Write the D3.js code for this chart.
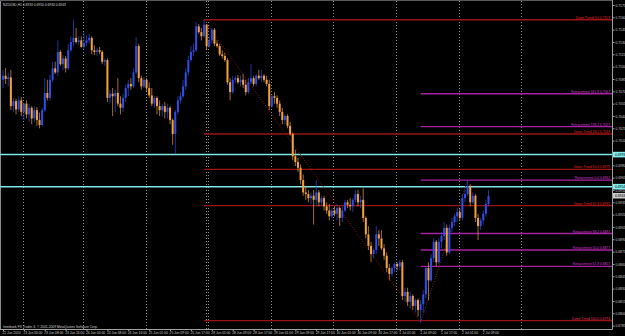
<!DOCTYPE html>
<html>
<head>
<meta charset="utf-8">
<script src="https://cdn.jsdelivr.net/npm/d3@7"></script>
<style>
  html, body { margin: 0; padding: 0; background: #000; overflow: hidden; }
  text { font-family: "Liberation Sans", Arial, sans-serif; }
</style>
</head>
<body>
<script>
const w = 625;
const h = 336;
const axisX = 612.5;
const axisY = 329.5;

// NZDUSD H1 bars, 22 Jun - 2 Jul 2010
const open = [
  0.7084, 0.7089, 0.7085, 0.7087, 0.7052, 0.7058, 0.7048, 0.7059, 0.7045, 0.7055,
  0.7042, 0.7050, 0.7037, 0.7047, 0.7035, 0.7029, 0.7047, 0.7068, 0.7062, 0.7084,
  0.7098, 0.7093, 0.7118, 0.7103, 0.7110, 0.7098, 0.7120, 0.7130, 0.7135, 0.7130,
  0.7132, 0.7124, 0.7129, 0.7132, 0.7135, 0.7120, 0.7118, 0.7120, 0.7118, 0.7106,
  0.7108, 0.7062, 0.7067, 0.7064, 0.7068, 0.7055, 0.7050, 0.7062, 0.7074, 0.7079,
  0.7076, 0.7093, 0.7125, 0.7086, 0.7076, 0.7084, 0.7074, 0.7065, 0.7055, 0.7062,
  0.7052, 0.7047, 0.7052, 0.7045, 0.7050, 0.7035, 0.7018, 0.7045, 0.7059, 0.7064,
  0.7076, 0.7093, 0.7108, 0.7118, 0.7120, 0.7149, 0.7142, 0.7137, 0.7151, 0.7125,
  0.7132, 0.7145, 0.7128, 0.7125, 0.7115, 0.7113, 0.7108, 0.7081, 0.7069, 0.7084,
  0.7086, 0.7081, 0.7084, 0.7078, 0.7069, 0.7081, 0.7086, 0.7079, 0.7089, 0.7086,
  0.7089, 0.7084, 0.7079, 0.7052, 0.7064, 0.7062, 0.7055, 0.7045, 0.7035, 0.7040,
  0.7028, 0.7018, 0.6991, 0.6984, 0.6977, 0.6962, 0.6947, 0.6945, 0.6940, 0.6943,
  0.6938, 0.6947, 0.6935, 0.6940, 0.6930, 0.6925, 0.6918, 0.6925, 0.6921, 0.6928,
  0.6916, 0.6925, 0.6935, 0.6932, 0.6930, 0.6938, 0.6945, 0.6935, 0.6938, 0.6916,
  0.6896, 0.6882, 0.6872, 0.6877, 0.6896, 0.6891, 0.6879, 0.6870, 0.6855, 0.6848,
  0.6855, 0.6860, 0.6857, 0.6862, 0.6821, 0.6826, 0.6814, 0.6821, 0.6809, 0.6816,
  0.6804, 0.6811, 0.6823, 0.6855, 0.6840, 0.6867, 0.6887, 0.6862, 0.6887, 0.6894,
  0.6904, 0.6874, 0.6904, 0.6911, 0.6918, 0.6923, 0.6916, 0.6940, 0.6945, 0.6955,
  0.6935, 0.6943, 0.6916, 0.6906, 0.6913, 0.6921, 0.6933
];
const high = [
  0.7096, 0.7098, 0.7093, 0.7096, 0.7062, 0.7061, 0.7064, 0.7063, 0.7056, 0.7059,
  0.7055, 0.7052, 0.7052, 0.7051, 0.7044, 0.7050, 0.7086, 0.7084, 0.7090, 0.7106,
  0.7106, 0.7132, 0.7120, 0.7114, 0.7113, 0.7128, 0.7137, 0.7157, 0.7147, 0.7137,
  0.7137, 0.7142, 0.7138, 0.7140, 0.7137, 0.7126, 0.7123, 0.7124, 0.7120, 0.7110,
  0.7110, 0.7072, 0.7074, 0.7072, 0.7086, 0.7064, 0.7067, 0.7078, 0.7084, 0.7086,
  0.7098, 0.7136, 0.7128, 0.7089, 0.7087, 0.7086, 0.7081, 0.7074, 0.7064, 0.7064,
  0.7059, 0.7055, 0.7057, 0.7055, 0.7052, 0.7037, 0.7047, 0.7064, 0.7069, 0.7084,
  0.7098, 0.7113, 0.7125, 0.7128, 0.7154, 0.7152, 0.7147, 0.7157, 0.7152, 0.7137,
  0.7147, 0.7147, 0.7132, 0.7128, 0.7120, 0.7117, 0.7110, 0.7086, 0.7089, 0.7089,
  0.7090, 0.7089, 0.7091, 0.7084, 0.7086, 0.7103, 0.7089, 0.7091, 0.7096, 0.7096,
  0.7091, 0.7089, 0.7084, 0.7067, 0.7069, 0.7065, 0.7059, 0.7050, 0.7042, 0.7042,
  0.7033, 0.7020, 0.6999, 0.6989, 0.6981, 0.6969, 0.6955, 0.6950, 0.6947, 0.6950,
  0.6962, 0.6950, 0.6943, 0.6943, 0.6935, 0.6933, 0.6928, 0.6930, 0.6933, 0.6930,
  0.6930, 0.6938, 0.6938, 0.6940, 0.6940, 0.6950, 0.6950, 0.6943, 0.6952, 0.6918,
  0.6906, 0.6887, 0.6879, 0.6906, 0.6901, 0.6901, 0.6884, 0.6874, 0.6860, 0.6857,
  0.6862, 0.6862, 0.6865, 0.6865, 0.6831, 0.6831, 0.6826, 0.6823, 0.6818, 0.6818,
  0.6816, 0.6828, 0.6857, 0.6862, 0.6872, 0.6891, 0.6889, 0.6891, 0.6899, 0.6911,
  0.6908, 0.6908, 0.6916, 0.6921, 0.6928, 0.6928, 0.6945, 0.6950, 0.6962, 0.6957,
  0.6947, 0.6945, 0.6921, 0.6916, 0.6925, 0.6938, 0.6950
];
const low = [
  0.7074, 0.7079, 0.7076, 0.7047, 0.7045, 0.7042, 0.7045, 0.7040, 0.7035, 0.7037,
  0.7033, 0.7030, 0.7033, 0.7028, 0.7025, 0.7027, 0.7045, 0.7059, 0.7059, 0.7081,
  0.7091, 0.7089, 0.7101, 0.7096, 0.7093, 0.7096, 0.7118, 0.7125, 0.7128, 0.7126,
  0.7123, 0.7121, 0.7125, 0.7128, 0.7115, 0.7114, 0.7113, 0.7115, 0.7103, 0.7101,
  0.7057, 0.7055, 0.7040, 0.7045, 0.7052, 0.7042, 0.7045, 0.7057, 0.7064, 0.7072,
  0.7074, 0.7091, 0.7081, 0.7072, 0.7074, 0.7069, 0.7062, 0.7052, 0.7050, 0.7042,
  0.7040, 0.7039, 0.7037, 0.7037, 0.7030, 0.7005, 0.6994, 0.7042, 0.7055, 0.7062,
  0.7072, 0.7089, 0.7106, 0.7113, 0.7118, 0.7140, 0.7132, 0.7135, 0.7120, 0.7123,
  0.7128, 0.7125, 0.7123, 0.7113, 0.7110, 0.7106, 0.7078, 0.7059, 0.7067, 0.7080,
  0.7079, 0.7076, 0.7074, 0.7065, 0.7067, 0.7079, 0.7076, 0.7076, 0.7084, 0.7081,
  0.7081, 0.7076, 0.7047, 0.7050, 0.7055, 0.7050, 0.7040, 0.7030, 0.7030, 0.7025,
  0.7016, 0.6986, 0.6979, 0.6972, 0.6957, 0.6943, 0.6938, 0.6935, 0.6933, 0.6908,
  0.6930, 0.6930, 0.6930, 0.6925, 0.6921, 0.6913, 0.6916, 0.6918, 0.6913, 0.6906,
  0.6911, 0.6923, 0.6928, 0.6925, 0.6923, 0.6935, 0.6930, 0.6928, 0.6911, 0.6891,
  0.6877, 0.6862, 0.6867, 0.6872, 0.6882, 0.6877, 0.6865, 0.6850, 0.6840, 0.6845,
  0.6850, 0.6852, 0.6852, 0.6816, 0.6814, 0.6809, 0.6806, 0.6804, 0.6801, 0.6796,
  0.6789, 0.6801, 0.6818, 0.6816, 0.6838, 0.6862, 0.6857, 0.6860, 0.6879, 0.6889,
  0.6870, 0.6872, 0.6899, 0.6906, 0.6911, 0.6913, 0.6913, 0.6935, 0.6943, 0.6930,
  0.6933, 0.6911, 0.6889, 0.6901, 0.6908, 0.6918, 0.6930
];
const close = [
  0.7089, 0.7085, 0.7087, 0.7052, 0.7058, 0.7048, 0.7059, 0.7045, 0.7055, 0.7042,
  0.7050, 0.7037, 0.7047, 0.7035, 0.7029, 0.7047, 0.7068, 0.7062, 0.7084, 0.7098,
  0.7093, 0.7118, 0.7103, 0.7110, 0.7098, 0.7120, 0.7130, 0.7135, 0.7130, 0.7132,
  0.7124, 0.7129, 0.7132, 0.7135, 0.7120, 0.7118, 0.7120, 0.7118, 0.7106, 0.7108,
  0.7062, 0.7067, 0.7064, 0.7068, 0.7055, 0.7050, 0.7062, 0.7074, 0.7079, 0.7076,
  0.7093, 0.7125, 0.7086, 0.7076, 0.7084, 0.7074, 0.7065, 0.7055, 0.7062, 0.7052,
  0.7047, 0.7052, 0.7045, 0.7050, 0.7035, 0.7018, 0.7045, 0.7059, 0.7064, 0.7076,
  0.7093, 0.7108, 0.7118, 0.7120, 0.7149, 0.7142, 0.7137, 0.7151, 0.7125, 0.7132,
  0.7145, 0.7128, 0.7125, 0.7115, 0.7113, 0.7108, 0.7081, 0.7069, 0.7084, 0.7086,
  0.7081, 0.7084, 0.7078, 0.7069, 0.7081, 0.7086, 0.7079, 0.7089, 0.7086, 0.7089,
  0.7084, 0.7079, 0.7052, 0.7064, 0.7062, 0.7055, 0.7045, 0.7035, 0.7040, 0.7028,
  0.7018, 0.6991, 0.6984, 0.6977, 0.6962, 0.6947, 0.6945, 0.6940, 0.6943, 0.6938,
  0.6947, 0.6935, 0.6940, 0.6930, 0.6925, 0.6918, 0.6925, 0.6921, 0.6928, 0.6916,
  0.6925, 0.6935, 0.6932, 0.6930, 0.6938, 0.6945, 0.6935, 0.6938, 0.6916, 0.6896,
  0.6882, 0.6872, 0.6877, 0.6896, 0.6891, 0.6879, 0.6870, 0.6855, 0.6848, 0.6855,
  0.6860, 0.6857, 0.6862, 0.6821, 0.6826, 0.6814, 0.6821, 0.6809, 0.6816, 0.6804,
  0.6811, 0.6823, 0.6855, 0.6840, 0.6867, 0.6887, 0.6862, 0.6887, 0.6894, 0.6904,
  0.6874, 0.6904, 0.6911, 0.6918, 0.6923, 0.6916, 0.6940, 0.6945, 0.6955, 0.6935,
  0.6943, 0.6916, 0.6906, 0.6913, 0.6921, 0.6933, 0.6943
];

const timeLabels = [
  "22 Jun 2010", "23 Jun 00:00", "23 Jun 08:00", "23 Jun 16:00", "24 Jun 00:00", "24 Jun 08:00",
  "24 Jun 16:00", "25 Jun 01:00", "25 Jun 09:00", "25 Jun 17:00", "28 Jun 01:00", "28 Jun 09:00",
  "28 Jun 17:00", "29 Jun 01:00", "29 Jun 09:00", "29 Jun 17:00", "30 Jun 01:00", "30 Jun 09:00",
  "30 Jun 17:00", "1 Jul 01:00", "1 Jul 09:00", "1 Jul 17:00", "2 Jul 01:00", "2 Jul 09:00"
];
const dayStartBars = [8, 31, 55, 78, 103, 127, 151, 175, 199];
const priceTicks = [
  0.7175, 0.7160, 0.7145, 0.7130, 0.7115, 0.7100, 0.7085, 0.7070, 0.7055, 0.7040,
  0.7025, 0.7010, 0.6995, 0.6980, 0.6965, 0.6950, 0.6935, 0.6920, 0.6905, 0.6890,
  0.6875, 0.6860, 0.6845, 0.6830, 0.6815, 0.6800, 0.6785
];

// fibo on the down move (from the 28 Jun high) and on the rebound (from the 1 Jul low)
const downNames = ["Down Trend 0.0", "Down Trend 38.2", "Down Trend 50.0", "Down Trend 61.8", "Down Trend 100.0"];
const downPrices = [0.7157, 0.7018, 0.6975, 0.6931, 0.6791];
const retNames = ["Retracement 161.8", "Retracement 138.2", "Retracement 0.0", "Retracement 38.2", "Retracement 50.0", "Retracement 61.8"];
const retPrices = [0.7067, 0.7027, 0.6962, 0.6897, 0.6877, 0.6857];
const userLines = [0.6993, 0.6954];
const highBar = 77;
const lowBar = 160;
const reboundBar = 178;

const bars = d3.range(open.length);
const fmt = d3.format('.4f');

const xScale = d3.scaleLinear().domain([0, 186]).range([3, 488.5]);
const yScale = d3.scaleLinear().domain([0.6785, 0.7175]).range([325.6, 5]);

const svg = d3.select('body')
  .append('svg')
  .attr('width', w)
  .attr('height', h)
  .style('display', 'block')
  .style('background', '#000');

// frame
svg.append('line').attr('x1', 0.5).attr('x2', 0.5).attr('y1', 0).attr('y2', axisY).attr('stroke', '#8c8c8c');
svg.append('line').attr('x1', 0).attr('x2', axisX).attr('y1', 0.5).attr('y2', 0.5).attr('stroke', '#5a5a5a');

// day separators, dotted
svg.append('g')
  .selectAll('line')
  .data(dayStartBars)
  .enter()
  .append('line')
  .attr('x1', d => Math.round(xScale(d) - 1) + 0.5)
  .attr('x2', d => Math.round(xScale(d) - 1) + 0.5)
  .attr('y1', 1)
  .attr('y2', axisY)
  .attr('stroke', '#8a8a8a')
  .attr('stroke-dasharray', '1,2');

svg.append('line')
  .attr('x1', Math.round(xScale(highBar + 1) + 1) + 0.5)
  .attr('x2', Math.round(xScale(highBar + 1) + 1) + 0.5)
  .attr('y1', 1).attr('y2', axisY)
  .attr('stroke', '#8a8a8a')
  .attr('stroke-dasharray', '1,2');

// user lines, full width
svg.append('g')
  .selectAll('line')
  .data(userLines)
  .enter()
  .append('line')
  .attr('x1', 0)
  .attr('x2', axisX)
  .attr('y1', d => yScale(d))
  .attr('y2', d => yScale(d))
  .attr('stroke', '#7fe6e6')
  .attr('stroke-width', 1.5);

// fibo levels of the down move
const downG = svg.append('g');
downG.selectAll('line')
  .data(downPrices)
  .enter()
  .append('line')
  .attr('x1', xScale(highBar))
  .attr('x2', axisX)
  .attr('y1', d => yScale(d))
  .attr('y2', d => yScale(d))
  .attr('stroke', '#9a1414')
  .attr('stroke-width', 1.4);
downG.selectAll('text')
  .data(downPrices)
  .enter()
  .append('text')
  .attr('x', 610)
  .attr('y', d => yScale(d) - 1)
  .attr('text-anchor', 'end')
  .attr('font-size', '3.3px')
  .attr('fill', (d, i) => i === downPrices.length - 1 ? '#e8305a' : '#e02424')
  .text((d, i) => `${downNames[i]}  ${fmt(d)}`);

// fibo levels of the rebound
const retG = svg.append('g');
retG.selectAll('line')
  .data(retPrices)
  .enter()
  .append('line')
  .attr('x1', xScale(lowBar))
  .attr('x2', axisX)
  .attr('y1', d => yScale(d))
  .attr('y2', d => yScale(d))
  .attr('stroke', '#a4229f')
  .attr('stroke-width', 1.4);
retG.selectAll('text')
  .data(retPrices)
  .enter()
  .append('text')
  .attr('x', 610)
  .attr('y', d => yScale(d) - 1)
  .attr('text-anchor', 'end')
  .attr('font-size', '3.3px')
  .attr('fill', '#d23cd2')
  .text((d, i) => `${retNames[i]}  ${fmt(d)}`);

// dotted trend lines
svg.append('line')
  .attr('x1', xScale(highBar)).attr('y1', yScale(high[highBar]))
  .attr('x2', xScale(lowBar)).attr('y2', yScale(low[lowBar]))
  .attr('stroke', '#8a1010')
  .attr('stroke-dasharray', '1,1.5');
svg.append('line')
  .attr('x1', xScale(lowBar)).attr('y1', yScale(low[lowBar]))
  .attr('x2', xScale(reboundBar)).attr('y2', yScale(high[reboundBar]))
  .attr('stroke', '#6a3030')
  .attr('stroke-dasharray', '1,1.5');

// candles
const bullColor = '#2f4ee8';
const bearColor = '#f2a23c';
const candles = svg.append('g');
candles.selectAll('line')
  .data(bars)
  .enter()
  .append('line')
  .attr('x1', i => xScale(i))
  .attr('x2', i => xScale(i))
  .attr('y1', i => yScale(high[i]))
  .attr('y2', i => yScale(low[i]))
  .attr('stroke', i => close[i] >= open[i] ? bullColor : bearColor)
  .attr('stroke-opacity', 0.75)
  .attr('stroke-width', 0.9);
candles.selectAll('rect')
  .data(bars)
  .enter()
  .append('rect')
  .attr('x', i => xScale(i) - 1)
  .attr('width', 2)
  .attr('y', i => yScale(Math.max(open[i], close[i])))
  .attr('height', i => Math.max(1, Math.abs(yScale(open[i]) - yScale(close[i]))))
  .attr('fill', i => close[i] >= open[i] ? bullColor : bearColor);

// price axis
const yAxis = d3.axisRight(yScale).tickValues(priceTicks).tickFormat(fmt).tickSize(2).tickPadding(1);
const yG = svg.append('g')
  .attr('transform', `translate(${axisX},0)`)
  .call(yAxis);
yG.select('.domain').remove();
yG.selectAll('line').attr('stroke', '#a0a0a0');
yG.selectAll('text').attr('font-size', '3.3px').attr('fill', '#c8c8c8').attr('font-family', '"Liberation Sans", Arial, sans-serif');

// time axis
const xAxis = d3.axisBottom(xScale)
  .tickValues(d3.range(0, 185, 8))
  .tickFormat((d, i) => timeLabels[i])
  .tickSize(1.5);
const xG = svg.append('g')
  .attr('transform', `translate(0,${axisY})`)
  .call(xAxis);
xG.select('.domain').remove();
xG.selectAll('line').attr('stroke', '#a0a0a0');
xG.selectAll('text')
  .attr('text-anchor', 'start')
  .attr('x', -1)
  .attr('y', 2.5)
  .attr('font-size', '3.3px')
  .attr('fill', '#c8c8c8')
  .attr('font-family', '"Liberation Sans", Arial, sans-serif');

svg.append('line').attr('x1', axisX).attr('x2', axisX).attr('y1', 0).attr('y2', axisY).attr('stroke', '#a0a0a0');
svg.append('line').attr('x1', 0).attr('x2', axisX).attr('y1', axisY).attr('y2', axisY).attr('stroke', '#a0a0a0');

// price boxes on the axis
const boxes = userLines.map(p => ({ p: p, fill: '#80eeee' }))
  .concat([{ p: close[close.length - 1], fill: '#c8c8c8' }]);
const boxG = svg.append('g').selectAll('g')
  .data(boxes)
  .enter()
  .append('g')
  .attr('transform', d => `translate(${axisX + 0.5},${yScale(d.p)})`);
boxG.append('rect')
  .attr('x', 0).attr('y', -2.8)
  .attr('width', 12).attr('height', 5.6)
  .attr('fill', d => d.fill);
boxG.append('text')
  .attr('x', 2)
  .attr('y', 1.2)
  .attr('font-size', '3.3px')
  .attr('fill', '#000')
  .text(d => fmt(d.p));

// captions
const last = open.length - 1;
svg.append('text')
  .attr('x', 3).attr('y', 5.5)
  .attr('font-size', '3.3px')
  .attr('fill', '#d0d0d0')
  .text(`NZDUSD,H1  ${fmt(open[last])} ${fmt(high[last])} ${fmt(low[last])} ${fmt(close[last])}`);
svg.append('text')
  .attr('x', 3).attr('y', 327.5)
  .attr('font-size', '3.3px')
  .attr('fill', '#d0d0d0')
  .text('Interbank FX Trader 4, \u00a9 2001-2009 MetaQuotes Software Corp.');
</script>
</body>
</html>
